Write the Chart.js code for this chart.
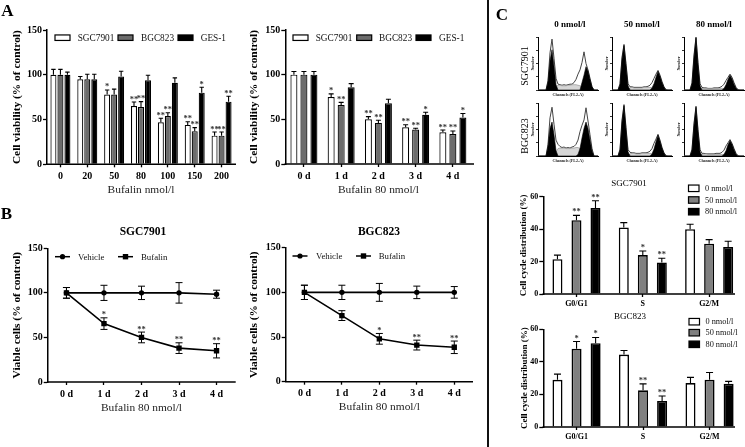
<!DOCTYPE html>
<html><head><meta charset="utf-8">
<script src="https://cdn.jsdelivr.net/npm/chart.js@4"></script>
<style>
html,body{margin:0;padding:0;background:#fff;width:745px;height:447px;overflow:hidden}
#page{position:relative;width:745px;height:447px;font-family:"Liberation Serif",serif;color:#000;filter:blur(.3px)}
canvas{position:absolute}
.t{position:absolute;white-space:nowrap;transform:translate(-50%,-50%);line-height:1}
.r{transform:translate(-50%,-50%) rotate(-90deg)}
#sep{position:absolute;left:486.7px;top:0;width:2px;height:447px;background:#111}
</style></head><body><div id="page"><div id="sep"></div></div>
<script>
// ---------- Panel A: dose response ----------
const doseLabels=["0","20","50","80","100","150","200"];
const doseSGC=[100,95,78,65,47,44,32];
const doseSGCerr=[6,3,5,4.5,4.5,3.5,4];
const doseSGCstars=["","","*","**","**","**","**"];
const doseBGC=[100,95,78,64,54,37,32];
const doseBGCerr=[6,5.5,6,6,3.5,4,4];
const doseBGCstars=["","","","**","**","**","**"];
const doseGES=[100,95,98,94,91,80,70];
const doseGESerr=[3,5.5,6,5.5,5.5,6,6];
const doseGESstars=["","","","","","*","**"];
// ---------- Panel A: time course ----------
const dayLabels=["0 d","1 d","2 d","3 d","4 d"];
const timeSGC=[100,75,50,41,35.5];
const timeSGCerr=[3.5,3.5,3,3,2.5];
const timeSGCstars=["","*","**","**","**"];
const timeBGC=[100,66,46,38.5,33.5];
const timeBGCerr=[3.5,3,3,1.5,3.5];
const timeBGCstars=["","**","**","**","**"];
const timeGES=[100,86,68,55,52];
const timeGESerr=[3.5,4,4.5,3,4.5];
const timeGESstars=["","","","*","*"];
// ---------- Panel B ----------
const b1Vehicle=[100,100,100,100,98.5];
const b1VehicleErr=[6,8.5,7.5,11.5,4.5];
const b1Bufalin=[100,65.5,50,38,35];
const b1BufalinErr=[6,6.5,6,6,8];
const b1Stars=["","*","**","**","**"];
const b2Vehicle=[100,100,100,100,100];
const b2VehicleErr=[8,8,10,7,6.5];
const b2Bufalin=[100,74,48,41,38.5];
const b2BufalinErr=[8,5.5,6,5.5,7];
const b2Stars=["","","*","**","**"];
// ---------- Panel C: phase bars ----------
const phaseLabels=["G0/G1","S","G2/M"];
const c1Zero=[21.5,41,40];
const c1ZeroErr=[2.5,3,3];
const c1Fifty=[45.5,24,31];
const c1FiftyErr=[3,2.5,2.5];
const c1FiftyStars=["**","*",""];
const c1Eighty=[53,19.5,29];
const c1EightyErr=[4.5,2.5,3.5];
const c1EightyStars=["**","**",""];
const c2Zero=[29,44.5,27];
const c2ZeroErr=[3.5,2.5,3.5];
const c2Fifty=[48,22.5,29];
const c2FiftyErr=[4.5,4,4.5];
const c2FiftyStars=["*","**",""];
const c2Eighty=[51.5,16,26.5];
const c2EightyErr=[3.5,3,1.5];
const c2EightyStars=["*","**",""];
// ---------- Panel C: flow cytometry histograms ----------
const channels=[0,1,2,3,4,5,6,7,8,9,10,11,12,13,14,15,16,17,18,19,20,21,22,23,24,25,26,27,28,29,30];
const h1Total=[0,0,0,0,0,18,70,96,60,22,11,10,9,10,9,10,11,11,14,20,30,38,52,72,50,38,22,6,0,0,0];
const h1S=[0,0,0,0,0,0,0,0,0,6,9,9,8,8,8,9,9,10,10,10,9,8,6,3,0,0,0,0,0,0,0];
const h1G=[0,0,0,0,0,15,55,76,45,10,0,0,0,0,0,0,0,0,0,0,0,0,14,28,44,36,20,6,0,0,0];
const h2Total=[0,0,0,0,12,62,86,50,12,6,6,5,5,5,5,5,6,6,7,9,14,22,30,37,28,16,6,1,0,0,0];
const h2S=[0,0,0,0,0,0,0,0,0,4,5,4,4,4,4,4,5,5,5,5,4,3,2,0,0,0,0,0,0,0,0];
const h2G=[0,0,0,0,10,58,84,46,8,0,0,0,0,0,0,0,0,0,0,0,4,12,24,35,26,14,5,0,0,0,0];
const h3Total=[0,0,0,0,14,66,100,52,12,5,4,4,3,3,3,4,4,4,5,7,11,18,24,30,24,14,5,1,0,0,0];
const h3S=[0,0,0,0,0,0,0,0,0,3,3,3,3,3,3,3,3,3,3,3,3,2,1,0,0,0,0,0,0,0,0];
const h3G=[0,0,0,0,12,62,98,48,8,0,0,0,0,0,0,0,0,0,0,0,3,10,20,28,21,11,4,0,0,0,0];
const h4Total=[0,0,0,0,0,22,72,92,60,30,22,18,16,17,15,16,15,17,18,22,30,46,58,68,91,66,40,14,0,0,0];
const h4S=[0,0,0,0,0,0,0,0,0,8,14,15,15,15,14,14,14,15,15,16,16,14,10,5,0,0,0,0,0,0,0];
const h4G=[0,0,0,0,0,18,52,64,40,10,0,0,0,0,0,0,0,0,0,0,3,14,34,52,64,52,30,10,0,0,0];
const h5Total=[0,0,0,0,13,68,97,54,12,7,6,6,5,5,5,6,6,6,7,9,14,24,32,41,30,16,6,1,0,0,0];
const h5S=[0,0,0,0,0,0,0,0,0,4,5,5,4,4,4,5,5,5,5,5,4,3,2,0,0,0,0,0,0,0,0];
const h5G=[0,0,0,0,11,64,95,50,8,0,0,0,0,0,0,0,0,0,0,0,4,13,27,39,28,15,5,0,0,0,0];
const h6Total=[0,0,0,0,13,62,94,50,12,5,5,4,4,4,4,4,5,5,5,7,11,19,25,31,24,14,5,1,0,0,0];
const h6S=[0,0,0,0,0,0,0,0,0,3,4,4,3,3,3,3,3,3,3,3,3,2,1,0,0,0,0,0,0,0,0];
const h6G=[0,0,0,0,11,58,92,46,8,0,0,0,0,0,0,0,0,0,0,0,3,10,21,29,22,12,4,0,0,0,0];

const SERIF='"Liberation Serif"';
const page=document.getElementById('page');
const WHITE='#ffffff',DARK='#6c6c6c',MID='#808080',BLACK='#000000';

function addText(txt,x,y,size,bold,rot){
  const d=document.createElement('div');
  d.className='t'+(rot?' r':'');
  d.textContent=txt;
  d.style.left=x+'px';d.style.top=y+'px';d.style.fontSize=size+'px';
  d.style.fontWeight=bold?'700':'400';
  page.appendChild(d);
}
function addCanvas(r){
  const c=document.createElement('canvas');
  c.width=r.w;c.height=r.h;
  c.style.left=r.x+'px';c.style.top=r.y+'px';c.style.width=r.w+'px';c.style.height=r.h+'px';
  page.appendChild(c);
  return c;
}

const marks={
  id:'marks',
  afterDatasetsDraw(chart,args,o){
    const ctx=chart.ctx,yS=chart.scales.y;
    ctx.save();
    // x axis line with its own end point
    ctx.strokeStyle='#000';ctx.lineWidth=o.axisW;
    const a=chart.chartArea;
    ctx.beginPath();ctx.moveTo(a.left-o.axisW/2,a.bottom);ctx.lineTo(o.axisEnd-o.rect.x,a.bottom);ctx.stroke();
    // error bars and stars
    chart.data.datasets.forEach((ds,di)=>{
      if(!ds.errs)return;
      const meta=chart.getDatasetMeta(di);
      ds.data.forEach((v,i)=>{
        const x=meta.data[i].x,yT=yS.getPixelForValue(v+ds.errs[i]),yV=yS.getPixelForValue(v),yB=yS.getPixelForValue(v-ds.errs[i]);
        ctx.lineWidth=o.errW;ctx.strokeStyle='#000';
        ctx.beginPath();
        ctx.moveTo(x,o.bothWays?yB:yV);ctx.lineTo(x,yT);
        ctx.moveTo(x-o.cap,yT);ctx.lineTo(x+o.cap,yT);
        if(o.bothWays){ctx.moveTo(x-o.cap,yB);ctx.lineTo(x+o.cap,yB);}
        ctx.stroke();
        const s=ds.stars&&ds.stars[i];
        if(s){
          ctx.fillStyle='#333';ctx.font='700 '+o.starSize+'px '+SERIF;
          ctx.textAlign='center';ctx.textBaseline='alphabetic';
          ctx.fillText(s,x,yT-o.starGap+0.47*o.starSize);
        }
      });
    });
    // legend
    ctx.translate(-o.rect.x,-o.rect.y);
    (o.legend||[]).forEach(l=>{
      ctx.fillStyle='#111';ctx.font='400 '+l.size+'px '+SERIF;
      ctx.textAlign='left';ctx.textBaseline='middle';
      ctx.fillText(l.text,l.tx,l.y+0.5);
      if(l.swatch){
        ctx.fillStyle=l.swatch;ctx.strokeStyle='#000';ctx.lineWidth=1.2;
        ctx.fillRect(l.x,l.y-l.h/2,l.w,l.h);ctx.strokeRect(l.x,l.y-l.h/2,l.w,l.h);
      }else{
        ctx.strokeStyle='#000';ctx.lineWidth=1.5;ctx.fillStyle='#000';
        ctx.beginPath();ctx.moveTo(l.x,l.y);ctx.lineTo(l.x+l.w,l.y);ctx.stroke();
        const cx=l.x+l.w/2;
        ctx.beginPath();
        if(l.glyph==='circle')ctx.arc(cx,l.y,2.6,0,Math.PI*2);else ctx.rect(cx-2.7,l.y-2.7,5.4,5.4);
        ctx.fill();
      }
    });
    ctx.restore();
  }
};

function axisChart(cfg){
  const lh=cfg.titleSize*1.2, r=cfg.rect, p=cfg.plot;
  const left=cfg.yTitleX-lh/2;
  const bottomEdge=cfg.xTitleY?cfg.xTitleY+lh/2:r.y+r.h;
  const tickFont={family:SERIF,size:cfg.tickSize,weight:'700'};
  const opts={
    responsive:false,animation:false,events:[],
    layout:{autoPadding:false,padding:{left:left-r.x,right:r.x+r.w-p.r,top:p.t-r.y,bottom:r.y+r.h-bottomEdge}},
    plugins:{legend:{display:false},title:{display:false},tooltip:{enabled:false},
      marks:{rect:r,axisEnd:cfg.axisEnd,axisW:1.5,errW:cfg.errW||1.1,cap:cfg.cap,bothWays:!!cfg.bothWays,starSize:cfg.starSize||8.5,starGap:cfg.starGap||4.5,legend:cfg.legend}},
    scales:{
      x:{type:'category',offset:true,
        afterFit:s=>{s.height=bottomEdge-p.b;},
        border:{display:false},
        grid:{display:true,offset:false,drawOnChartArea:false,drawTicks:true,tickLength:3,tickWidth:1.3,tickColor:'#000'},
        ticks:{color:'#000',font:tickFont,padding:cfg.xTickPad===undefined?3:cfg.xTickPad,maxRotation:0,autoSkip:false},
        title:cfg.xTitle?{display:true,text:cfg.xTitle,color:'#222',font:{family:SERIF,size:cfg.titleSize,weight:'400'},padding:{top:0,bottom:0}}:{display:false}},
      y:{min:0,max:cfg.yMax,
        afterFit:s=>{s.width=p.l-left;},
        border:{display:true,color:'#000',width:1.5},
        grid:{display:true,drawOnChartArea:false,drawTicks:true,tickLength:4,tickWidth:1.3,tickColor:'#000'},
        ticks:{color:'#000',font:tickFont,padding:1,stepSize:cfg.yStep},
        title:{display:true,text:cfg.yTitle,color:'#000',font:{family:SERIF,size:cfg.titleSize,weight:'700'},padding:{top:0,bottom:0}}}
    }
  };
  return new Chart(addCanvas(r),{type:cfg.type,data:{labels:cfg.labels,datasets:cfg.datasets},options:opts,plugins:[marks]});
}
function barSet(name,data,errs,color,stars,catPct,barPct,bw){
  return {label:name,data,errs,stars,backgroundColor:color,borderColor:'#000',borderWidth:bw||1.2,categoryPercentage:catPct,barPercentage:barPct};
}
function lineSet(name,data,errs,style,radius,stars){
  return {label:name,data,errs,stars,borderColor:'#000',borderWidth:1.6,backgroundColor:'#000',pointStyle:style,pointRadius:radius,pointBorderWidth:0,tension:0,fill:false};
}
function swatches(names,xs,txs,y,w,h,fills,size){
  return names.map((n,i)=>({text:n,x:xs[i],tx:txs[i],y,w,h,swatch:fills[i],size}));
}

// A, left
axisChart({type:'bar',rect:{x:0,y:20,w:243,h:180},plot:{l:47,r:235,t:30,b:164.3},axisEnd:236,
  yTitleX:16.7,xTitleY:190,titleSize:11.4,tickSize:10,yMax:150,yStep:50,cap:2.2,
  yTitle:'Cell viability (% of control)',xTitle:'Bufalin nmol/l',labels:doseLabels,
  datasets:[barSet('SGC7901',doseSGC,doseSGCerr,WHITE,doseSGCstars,.782,.857),
            barSet('BGC823',doseBGC,doseBGCerr,DARK,doseBGCstars,.782,.857),
            barSet('GES-1',doseGES,doseGESerr,BLACK,doseGESstars,.782,.857)],
  legend:swatches(['SGC7901','BGC823','GES-1'],[55,118,178],[77.7,141,200.7],37.7,15,5.5,[WHITE,DARK,BLACK],9.3)});
// A, right
axisChart({type:'bar',rect:{x:243,y:20,w:243,h:180},plot:{l:285.3,r:471.5,t:30,b:164},axisEnd:474,
  yTitleX:254.3,xTitleY:190,titleSize:11.4,tickSize:10,yMax:150,yStep:50,cap:2.5,
  yTitle:'Cell viability (% of control)',xTitle:'Bufalin 80 nmol/l',labels:dayLabels,
  datasets:[barSet('SGC7901',timeSGC,timeSGCerr,WHITE,timeSGCstars,.806,.7),
            barSet('BGC823',timeBGC,timeBGCerr,DARK,timeBGCstars,.806,.7),
            barSet('GES-1',timeGES,timeGESerr,BLACK,timeGESstars,.806,.7)],
  legend:swatches(['SGC7901','BGC823','GES-1'],[293,356.7,416],[315.7,379,439],37.7,15,5.5,[WHITE,DARK,BLACK],9.3)});
// B, left
axisChart({type:'line',rect:{x:0,y:240,w:243,h:180},plot:{l:47.7,r:235.3,t:248.3,b:382},axisEnd:235.7,
  yTitleX:16.7,xTitleY:407.7,titleSize:11.4,tickSize:10,yMax:150,yStep:50,cap:3.5,bothWays:true,starGap:4.5,errW:1,xTickPad:3,
  yTitle:'Viable cells (% of control)',xTitle:'Bufalin 80 nmol/l',labels:dayLabels,
  datasets:[lineSet('Vehicle',b1Vehicle,b1VehicleErr,'circle',2.7),
            lineSet('Bufalin',b1Bufalin,b1BufalinErr,'rect',3.8,b1Stars)],
  legend:[{text:'Vehicle',x:55,tx:78,y:256.7,w:15,glyph:'circle',size:8.8},{text:'Bufalin',x:118,tx:141,y:256.7,w:15,glyph:'rect',size:8.8}]});
// B, right
axisChart({type:'line',rect:{x:243,y:240,w:243,h:180},plot:{l:285.7,r:473,t:247.7,b:381.7},axisEnd:473,
  yTitleX:254.3,xTitleY:407.3,titleSize:11.4,tickSize:10,yMax:150,yStep:50,cap:3.5,bothWays:true,starGap:4.5,errW:1,xTickPad:3,
  yTitle:'Viable cells (% of control)',xTitle:'Bufalin 80 nmol/l',labels:dayLabels,
  datasets:[lineSet('Vehicle',b2Vehicle,b2VehicleErr,'circle',2.7),
            lineSet('Bufalin',b2Bufalin,b2BufalinErr,'rect',3.8,b2Stars)],
  legend:[{text:'Vehicle',x:292.5,tx:316,y:256,w:15,glyph:'circle',size:8.8},{text:'Bufalin',x:356,tx:378.7,y:256,w:15,glyph:'rect',size:8.8}]});
// C, bars
axisChart({type:'bar',rect:{x:495,y:180,w:250,h:132},plot:{l:543.3,r:742.3,t:196.7,b:294},axisEnd:735,
  yTitleX:524,titleSize:9,tickSize:8,yMax:60,yStep:20,cap:3.5,starGap:5,xTickPad:2,
  yTitle:'Cell cycle distribution (%)',labels:phaseLabels,
  datasets:[barSet('0 nmol/l',c1Zero,c1ZeroErr,WHITE,null,.86,.526,1.6),
            barSet('50 nmol/l',c1Fifty,c1FiftyErr,MID,c1FiftyStars,.86,.526,1.6),
            barSet('80 nmol/l',c1Eighty,c1EightyErr,BLACK,c1EightyStars,.86,.526,1.6)],
  legend:[0,1,2].map(i=>({text:['0 nmol/l','50 nmol/l','80 nmol/l'][i],x:688.5,tx:705,y:[188.3,200,211.7][i],w:10.5,h:6.5,swatch:[WHITE,MID,BLACK][i],size:8.3}))});
axisChart({type:'bar',rect:{x:495,y:312,w:250,h:135},plot:{l:543.3,r:742.8,t:329.3,b:427},axisEnd:735,
  yTitleX:524.3,titleSize:9,tickSize:8,yMax:60,yStep:20,cap:3.5,starGap:5,xTickPad:2,
  yTitle:'Cell cycle distribution (%)',labels:phaseLabels,
  datasets:[barSet('0 nmol/l',c2Zero,c2ZeroErr,WHITE,null,.86,.526,1.6),
            barSet('50 nmol/l',c2Fifty,c2FiftyErr,MID,c2FiftyStars,.86,.526,1.6),
            barSet('80 nmol/l',c2Eighty,c2EightyErr,BLACK,c2EightyStars,.86,.526,1.6)],
  legend:[0,1,2].map(i=>({text:['0 nmol/l','50 nmol/l','80 nmol/l'][i],x:689,tx:705.5,y:[321.7,332.7,344.3][i],w:10.5,h:6.5,swatch:[WHITE,MID,BLACK][i],size:8.3}))});

// C, histograms
function hist(l,t,b,total,s,g){
  const r={x:l-12,y:t-3,w:74,h:b-t+12};
  const size={family:SERIF,size:4,weight:'700'};
  new Chart(addCanvas(r),{type:'line',
    data:{labels:channels,datasets:[
      {data:g,borderColor:'#000',backgroundColor:'#000',borderWidth:.6,pointRadius:0,fill:'origin',tension:0},
      {data:s,borderColor:'#888',backgroundColor:'#d6d6d6',borderWidth:.6,pointRadius:0,fill:'origin',tension:0},
      {data:total,borderColor:'#444',backgroundColor:'#fff',borderWidth:1,pointRadius:0,fill:'origin',tension:0}]},
    options:{responsive:false,animation:false,events:[],
      layout:{autoPadding:false,padding:{left:5,right:2,top:3,bottom:0}},
      plugins:{legend:{display:false},tooltip:{enabled:false}},
      scales:{
        x:{afterFit:s=>{s.height=9;},border:{color:'#000',width:1},
           grid:{drawOnChartArea:false,drawTicks:false},
           ticks:{display:false},
           title:{display:true,text:'Channels (FL2-A)',color:'#222',font:size,padding:{top:0,bottom:2}}},
        y:{min:0,max:100,afterFit:s=>{s.width=7;},border:{color:'#000',width:1},
           grid:{drawOnChartArea:false,drawTicks:true,tickLength:2,tickWidth:.8,tickColor:'#000'},
           ticks:{display:false,stepSize:25},
           title:{display:true,text:'Number',color:'#222',font:size,padding:{top:0,bottom:0}}}
      }}});
}
hist(538,37,90,h1Total,h1S,h1G);
hist(611.7,37,90,h2Total,h2S,h2G);
hist(684.3,37,90,h3Total,h3S,h3G);
hist(538,103,156,h4Total,h4S,h4G);
hist(611.7,103,156,h5Total,h5S,h5G);
hist(684.3,103,156,h6Total,h6S,h6G);

// Text outside the plots
addText('A',7.5,10,17,true);
addText('B',6.5,212.5,17,true);
addText('C',502,14,17,true);
addText('SGC7901',143,231.7,11.5,true);
addText('BGC823',379,231.5,11.5,true);
addText('0 nmol/l',570,24,9,true);
addText('50 nmol/l',642,24,9,true);
addText('80 nmol/l',714,24,9,true);
addText('SGC7901',525,65.7,10,false,true);
addText('BGC823',525,135.7,10,false,true);
addText('SGC7901',629,183,9,false);
addText('BGC823',630,315.7,9,false);
</script></body></html>
